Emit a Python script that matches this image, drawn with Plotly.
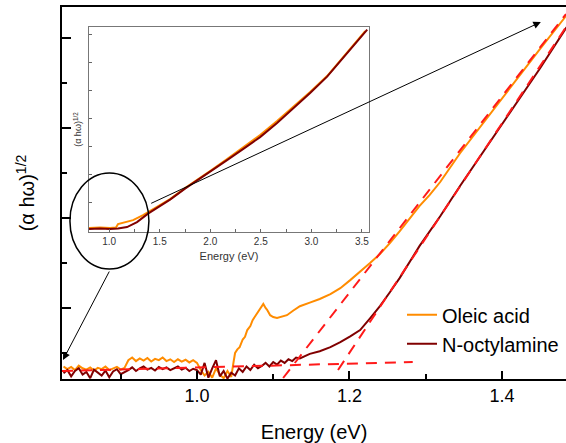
import plotly.graph_objects as go

# ---------------- main panel data (arbitrary units) ----------------
# noisy baseline region, x grid step 0.005 eV from 0.825 to 1.045
base_x = [round(0.825 + 0.005 * i, 3) for i in range(45)]
oleic_base_y = [0.70, 0.64, 0.69, 0.62, 0.72, 0.66, 0.63, 0.68, 0.61, 0.67, 0.64, 0.70, 0.62, 0.66, 0.69, 0.63, 0.67,
                0.84, 0.90, 0.82, 0.88, 0.83, 0.89, 0.81, 0.87, 0.84, 0.90, 0.82, 0.86, 0.80, 0.86, 0.81, 0.85, 0.79, 0.84, 0.78,
                0.62, 0.50, 0.58, 0.45, 0.66, 0.52, 0.44, 0.60, 0.47]
octyl_base_y = [0.55, 0.62, 0.48, 0.60, 0.66, 0.52, 0.58, 0.44, 0.63, 0.57, 0.50, 0.61, 0.46, 0.59, 0.64, 0.53, 0.57,
                0.62, 0.68, 0.60, 0.66, 0.70, 0.63, 0.67, 0.61, 0.69, 0.64, 0.68, 0.62, 0.66, 0.70, 0.63, 0.67, 0.60, 0.65, 0.62,
                0.52, 0.78, 0.45, 0.66, 0.84, 0.48, 0.60, 0.43, 0.56]

oleic_rise_x = [1.048, 1.050, 1.053, 1.056, 1.060, 1.063, 1.066, 1.070, 1.073, 1.078, 1.083, 1.087, 1.090, 1.092, 1.096,
                1.100, 1.105, 1.111, 1.118, 1.126, 1.135, 1.148, 1.161, 1.175, 1.188, 1.201, 1.214, 1.227, 1.240, 1.253,
                1.266, 1.279, 1.292, 1.305, 1.319, 1.345, 1.371, 1.397, 1.424, 1.450, 1.484, 1.509]
oleic_rise_y = [0.80, 1.00, 1.08, 1.13, 1.30, 1.36, 1.51, 1.60, 1.73, 1.86, 1.96, 2.09, 2.00, 1.96, 1.84,
                1.80, 1.78, 1.80, 1.84, 1.94, 2.04, 2.12, 2.20, 2.31, 2.44, 2.62, 2.80, 3.00, 3.20, 3.44,
                3.71, 3.98, 4.27, 4.51, 4.80, 5.44, 6.02, 6.60, 7.18, 7.76, 8.49, 9.07]

octyl_rise_x = [1.050, 1.055, 1.060, 1.065, 1.070, 1.075, 1.080, 1.085, 1.090, 1.095, 1.100, 1.105, 1.110, 1.115,
                1.120, 1.125, 1.130, 1.135, 1.148, 1.161, 1.175, 1.188, 1.201, 1.214, 1.227, 1.240, 1.253, 1.266,
                1.292, 1.319, 1.345, 1.371, 1.397, 1.424, 1.450, 1.484, 1.510]
octyl_rise_y = [0.50, 0.66, 0.58, 0.70, 0.62, 0.74, 0.66, 0.71, 0.78, 0.70, 0.80, 0.74, 0.83, 0.78,
                0.86, 0.82, 0.90, 0.88, 0.98, 1.04, 1.13, 1.24, 1.37, 1.51, 1.77, 2.04, 2.35, 2.67,
                3.38, 4.04, 4.71, 5.36, 6.00, 6.67, 7.33, 8.22, 8.85]

oleic_x = base_x + oleic_rise_x
oleic_y = oleic_base_y + oleic_rise_y
octyl_x = base_x + octyl_rise_x
octyl_y = octyl_base_y + octyl_rise_y

# dashed linear fits
fit_base_x = [0.823, 1.283]
fit_base_y = [0.60, 0.80]
fit_oleic_x = [1.113, 1.484]
fit_oleic_y = [0.444, 8.533]
fit_octyl_x = [1.185, 1.484]
fit_octyl_y = [0.622, 8.244]

# ---------------- inset data ----------------
inset_oleic_x = [0.80, 0.909, 1.008, 1.067, 1.087, 1.156, 1.236, 1.335, 1.404, 1.503, 1.602, 1.750, 1.899, 1.998,
                 2.166, 2.345, 2.493, 2.661, 2.820, 2.988, 3.156, 3.335, 3.533]
inset_oleic_y = [0.071, 0.089, 0.071, 0.089, 0.214, 0.268, 0.357, 0.536, 0.679, 0.893, 1.107, 1.50, 1.857, 2.107,
                 2.536, 3.00, 3.393, 3.893, 4.393, 4.929, 5.50, 6.25, 7.107]
inset_octyl_x = [0.80, 0.909, 1.008, 1.087, 1.176, 1.275, 1.384, 1.503, 1.602, 1.750, 1.899, 1.998, 2.166, 2.345,
                 2.493, 2.661, 2.820, 2.988, 3.156, 3.335, 3.553]
inset_octyl_y = [0.036, 0.054, 0.036, 0.054, 0.107, 0.286, 0.589, 0.857, 1.089, 1.482, 1.839, 2.089, 2.50, 2.946,
                 3.321, 3.821, 4.339, 4.893, 5.482, 6.232, 7.161]
inset_ticks = [1.0, 1.5, 2.0, 2.5, 3.0, 3.5]
inset_ticklabels = ["1.0", "1.5", "2.0", "2.5", "3.0", "3.5"]
main_ticks = [1.0, 1.2, 1.4]
main_ticklabels = ["1.0", "1.2", "1.4"]

ORANGE = "#FF8C00"
DARKRED = "#800000"
RED = "#FF1A1A"
FONT = "Liberation Sans, Arial, sans-serif"

fig = go.Figure()
fig.add_trace(go.Scatter(x=oleic_x, y=oleic_y, mode="lines", name="Oleic acid",
                         line=dict(color=ORANGE, width=2)))
fig.add_trace(go.Scatter(x=octyl_x, y=octyl_y, mode="lines", name="N-octylamine",
                         line=dict(color=DARKRED, width=2)))
for fx, fy in [(fit_base_x, fit_base_y), (fit_oleic_x, fit_oleic_y), (fit_octyl_x, fit_octyl_y)]:
    fig.add_trace(go.Scatter(x=fx, y=fy, mode="lines", showlegend=False,
                             line=dict(color=RED, width=2, dash="11px,8px")))

fig.add_trace(go.Scatter(x=inset_oleic_x, y=inset_oleic_y, mode="lines", showlegend=False,
                         xaxis="x2", yaxis="y2", line=dict(color=ORANGE, width=2)))
fig.add_trace(go.Scatter(x=inset_octyl_x, y=inset_octyl_y, mode="lines", showlegend=False,
                         xaxis="x2", yaxis="y2", line=dict(color=DARKRED, width=2)))

fig.update_layout(
    width=566, height=443,
    margin=dict(l=62, r=0, t=7, b=64, autoexpand=False),
    paper_bgcolor="white", plot_bgcolor="white",
    font=dict(family=FONT, color="black"),
    showlegend=True,
    legend=dict(x=0.6746, y=0.225, xanchor="left", yanchor="top", bgcolor="rgba(0,0,0,0)",
                font=dict(size=20, color="black"), itemwidth=30, tracegroupgap=0),
    xaxis=dict(domain=[0, 1], range=[0.823, 1.484], tickvals=main_ticks, ticktext=main_ticklabels,
               ticks="inside", ticklen=8, tickwidth=1.5, tickcolor="black", automargin=False,
               minor=dict(tickvals=[0.9, 1.1, 1.3], ticks="inside", ticklen=5, tickwidth=1.5, tickcolor="black"),
               showline=True, linecolor="black", linewidth=1.5, mirror=True,
               showgrid=False, zeroline=False, tickfont=dict(size=18),
               title=dict(text="Energy (eV)", font=dict(size=20), standoff=24)),
    yaxis=dict(domain=[0, 1], range=[0.422, 8.69], tickvals=[2, 4, 6, 8], showticklabels=False,
               ticks="inside", ticklen=9, tickwidth=1.5, tickcolor="black", automargin=False,
               minor=dict(tickvals=[1, 3, 5, 7], ticks="inside", ticklen=5, tickwidth=1.5, tickcolor="black"),
               showline=True, linecolor="black", linewidth=2, mirror=False,
               showgrid=False, zeroline=False,
               title=dict(text="(α hω)<sup>1/2</sup>", font=dict(size=20), standoff=20)),
    xaxis2=dict(domain=[0.0536, 0.609], anchor="y2", range=[0.80, 3.57], tickvals=inset_ticks,
                ticktext=inset_ticklabels, ticks="inside", ticklen=3, tickcolor="#666", automargin=False,
                minor=dict(tickvals=[1.25, 1.75, 2.25, 2.75, 3.25], ticks="inside", ticklen=3, tickcolor="#666"),
                showline=True, linecolor="#777", linewidth=1, mirror=True, showgrid=False, zeroline=False,
                tickfont=dict(size=10, color="#333"),
                title=dict(text="Energy (eV)", font=dict(size=11, color="#333"), standoff=6)),
    yaxis2=dict(domain=[0.395, 0.946], anchor="x2", range=[-0.07, 7.25], tickvals=[1, 2, 3, 4, 5, 6, 7],
                ticks="inside", ticklen=3, tickcolor="#666", showticklabels=False, automargin=False,
                showline=True, linecolor="#777", linewidth=1, mirror=True, showgrid=False, zeroline=False,
                title=dict(text="(α hω)<sup>1/2</sup>", font=dict(size=9, color="#333"), standoff=4)),
    shapes=[dict(type="circle", xref="x", yref="y", x0=0.8334, x1=0.937, y0=2.867, y1=5.0,
                 line=dict(color="black", width=1.5))],
    annotations=[
        dict(x=1.451, y=8.356, ax=0.938, ay=4.311, xref="x", yref="y", axref="x", ayref="y",
             text="", showarrow=True, arrowhead=2, arrowsize=1.5, arrowwidth=1, arrowcolor="black"),
        dict(x=0.8243, y=0.844, ax=0.886, ay=2.844, xref="x", yref="y", axref="x", ayref="y",
             text="", showarrow=True, arrowhead=2, arrowsize=1.5, arrowwidth=1, arrowcolor="black"),
    ],
)

fig.write_html("out.html", config={"displayModeBar": False},
               post_script="document.body.style.margin='0';document.body.style.overflow='hidden';")
